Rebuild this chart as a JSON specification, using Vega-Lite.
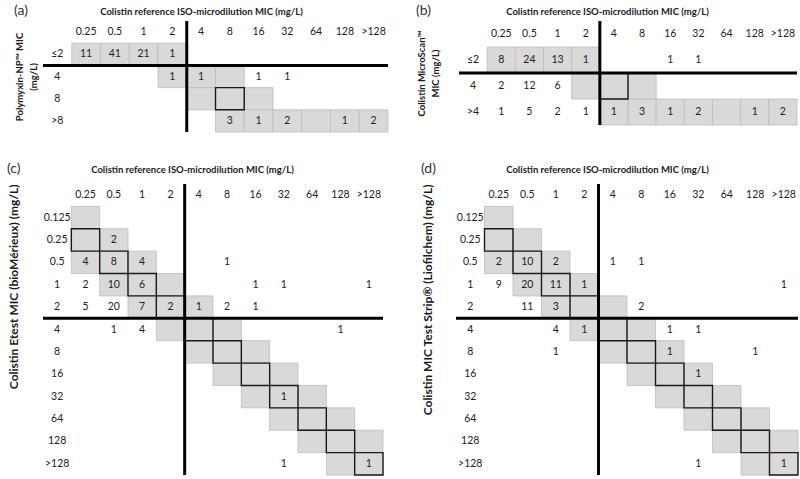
{
  "$schema": "https://vega.github.io/schema/vega-lite/v6.json",
  "background": "white",
  "padding": {"left": 6, "top": 4, "right": 0, "bottom": 0},
  "config": {
    "font": "Lato",
    "view": {"stroke": null},
    "axis": {"titleFont": "Lato", "titleFontSize": 9.5, "titleFontWeight": "bold", "titleColor": "#1a1a1a", "labels": false, "ticks": false, "domain": false, "grid": false},
    "title": {"font": "Lato", "fontSize": 14, "fontWeight": "normal", "color": "#333", "anchor": "start", "frame": "bounds", "offset": -12},
    "text": {"font": "Lato", "fontSize": 10.5, "color": "#222"}
  },
  "datasets": {
    "hdrcols": [{"c": "0.25"}, {"c": "0.5"}, {"c": "1"}, {"c": "2"}, {"c": "4"}, {"c": "8"}, {"c": "16"}, {"c": "32"}, {"c": "64"}, {"c": "128"}, {"c": ">128"}],
    "brk": [{"c": "4", "r": "4"}],
    "rowsA": [{"r": "≤2"}, {"r": "4"}, {"r": "8"}, {"r": ">8"}],
    "rowsB": [{"r": "≤2"}, {"r": "4"}, {"r": ">4"}],
    "rowsC": [{"r": "0.125"}, {"r": "0.25"}, {"r": "0.5"}, {"r": "1"}, {"r": "2"}, {"r": "4"}, {"r": "8"}, {"r": "16"}, {"r": "32"}, {"r": "64"}, {"r": "128"}, {"r": ">128"}],
    "greyA": [
      {"r": "≤2", "c": "0.25"}, {"r": "≤2", "c": "0.5"}, {"r": "≤2", "c": "1"}, {"r": "≤2", "c": "2"},
      {"r": "4", "c": "2"}, {"r": "4", "c": "4"}, {"r": "4", "c": "8"},
      {"r": "8", "c": "4"}, {"r": "8", "c": "8"}, {"r": "8", "c": "16"},
      {"r": ">8", "c": "8"}, {"r": ">8", "c": "16"}, {"r": ">8", "c": "32"}, {"r": ">8", "c": "64"}, {"r": ">8", "c": "128"}, {"r": ">8", "c": ">128"}
    ],
    "boxA": [{"r": "8", "c": "8"}],
    "countA": [
      {"r": "≤2", "c": "0.25", "n": 11}, {"r": "≤2", "c": "0.5", "n": 41}, {"r": "≤2", "c": "1", "n": 21}, {"r": "≤2", "c": "2", "n": 1},
      {"r": "4", "c": "2", "n": 1}, {"r": "4", "c": "4", "n": 1}, {"r": "4", "c": "16", "n": 1}, {"r": "4", "c": "32", "n": 1},
      {"r": ">8", "c": "8", "n": 3}, {"r": ">8", "c": "16", "n": 1}, {"r": ">8", "c": "32", "n": 2}, {"r": ">8", "c": "128", "n": 1}, {"r": ">8", "c": ">128", "n": 2}
    ],
    "greyB": [
      {"r": "≤2", "c": "0.25"}, {"r": "≤2", "c": "0.5"}, {"r": "≤2", "c": "1"}, {"r": "≤2", "c": "2"},
      {"r": "4", "c": "2"}, {"r": "4", "c": "4"}, {"r": "4", "c": "8"},
      {"r": ">4", "c": "4"}, {"r": ">4", "c": "8"}, {"r": ">4", "c": "16"}, {"r": ">4", "c": "32"}, {"r": ">4", "c": "64"}, {"r": ">4", "c": "128"}, {"r": ">4", "c": ">128"}
    ],
    "boxB": [{"r": "4", "c": "4"}],
    "countB": [
      {"r": "≤2", "c": "0.25", "n": 8}, {"r": "≤2", "c": "0.5", "n": 24}, {"r": "≤2", "c": "1", "n": 13}, {"r": "≤2", "c": "2", "n": 1}, {"r": "≤2", "c": "16", "n": 1}, {"r": "≤2", "c": "32", "n": 1},
      {"r": "4", "c": "0.25", "n": 2}, {"r": "4", "c": "0.5", "n": 12}, {"r": "4", "c": "1", "n": 6},
      {"r": ">4", "c": "0.25", "n": 1}, {"r": ">4", "c": "0.5", "n": 5}, {"r": ">4", "c": "1", "n": 2}, {"r": ">4", "c": "2", "n": 1}, {"r": ">4", "c": "4", "n": 1}, {"r": ">4", "c": "8", "n": 3}, {"r": ">4", "c": "16", "n": 1}, {"r": ">4", "c": "32", "n": 2}, {"r": ">4", "c": "128", "n": 1}, {"r": ">4", "c": ">128", "n": 2}
    ],
    "greyC": [
      {"r": "0.125", "c": "0.25"},
      {"r": "0.25", "c": "0.25"}, {"r": "0.25", "c": "0.5"},
      {"r": "0.5", "c": "0.25"}, {"r": "0.5", "c": "0.5"}, {"r": "0.5", "c": "1"},
      {"r": "1", "c": "0.5"}, {"r": "1", "c": "1"}, {"r": "1", "c": "2"},
      {"r": "2", "c": "1"}, {"r": "2", "c": "2"}, {"r": "2", "c": "4"},
      {"r": "4", "c": "2"}, {"r": "4", "c": "4"}, {"r": "4", "c": "8"},
      {"r": "8", "c": "4"}, {"r": "8", "c": "8"}, {"r": "8", "c": "16"},
      {"r": "16", "c": "8"}, {"r": "16", "c": "16"}, {"r": "16", "c": "32"},
      {"r": "32", "c": "16"}, {"r": "32", "c": "32"}, {"r": "32", "c": "64"},
      {"r": "64", "c": "32"}, {"r": "64", "c": "64"}, {"r": "64", "c": "128"},
      {"r": "128", "c": "64"}, {"r": "128", "c": "128"}, {"r": "128", "c": ">128"},
      {"r": ">128", "c": "128"}, {"r": ">128", "c": ">128"}
    ],
    "boxC": [
      {"r": "0.25", "c": "0.25"}, {"r": "0.5", "c": "0.5"}, {"r": "1", "c": "1"}, {"r": "2", "c": "2"}, {"r": "4", "c": "4"}, {"r": "8", "c": "8"},
      {"r": "16", "c": "16"}, {"r": "32", "c": "32"}, {"r": "64", "c": "64"}, {"r": "128", "c": "128"}, {"r": ">128", "c": ">128"}
    ],
    "countC": [
      {"r": "0.25", "c": "0.5", "n": 2},
      {"r": "0.5", "c": "0.25", "n": 4}, {"r": "0.5", "c": "0.5", "n": 8}, {"r": "0.5", "c": "1", "n": 4}, {"r": "0.5", "c": "8", "n": 1},
      {"r": "1", "c": "0.25", "n": 2}, {"r": "1", "c": "0.5", "n": 10}, {"r": "1", "c": "1", "n": 6}, {"r": "1", "c": "16", "n": 1}, {"r": "1", "c": "32", "n": 1}, {"r": "1", "c": ">128", "n": 1},
      {"r": "2", "c": "0.25", "n": 5}, {"r": "2", "c": "0.5", "n": 20}, {"r": "2", "c": "1", "n": 7}, {"r": "2", "c": "2", "n": 2}, {"r": "2", "c": "4", "n": 1}, {"r": "2", "c": "8", "n": 2}, {"r": "2", "c": "16", "n": 1},
      {"r": "4", "c": "0.5", "n": 1}, {"r": "4", "c": "1", "n": 4}, {"r": "4", "c": "128", "n": 1},
      {"r": "32", "c": "32", "n": 1},
      {"r": ">128", "c": "32", "n": 1}, {"r": ">128", "c": ">128", "n": 1}
    ],
    "countD": [
      {"r": "0.5", "c": "0.25", "n": 2}, {"r": "0.5", "c": "0.5", "n": 10}, {"r": "0.5", "c": "1", "n": 2}, {"r": "0.5", "c": "4", "n": 1}, {"r": "0.5", "c": "8", "n": 1},
      {"r": "1", "c": "0.25", "n": 9}, {"r": "1", "c": "0.5", "n": 20}, {"r": "1", "c": "1", "n": 11}, {"r": "1", "c": "2", "n": 1}, {"r": "1", "c": ">128", "n": 1},
      {"r": "2", "c": "0.5", "n": 11}, {"r": "2", "c": "1", "n": 3}, {"r": "2", "c": "8", "n": 2},
      {"r": "4", "c": "1", "n": 4}, {"r": "4", "c": "2", "n": 1}, {"r": "4", "c": "16", "n": 1}, {"r": "4", "c": "32", "n": 1},
      {"r": "8", "c": "1", "n": 1}, {"r": "8", "c": "16", "n": 1}, {"r": "8", "c": "128", "n": 1},
      {"r": "16", "c": "32", "n": 1},
      {"r": ">128", "c": "32", "n": 1}, {"r": ">128", "c": ">128", "n": 1}
    ]
  },
  "spacing": 28,
  "vconcat": [
    {
      "spacing": 26,
      "hconcat": [
        {
          "width": 345, "height": 111,
          "title": {"text": "(a)"},
          "layer": [
            {"data": {"name": "greyA"}, "mark": {"type": "rect", "fill": "#d9d9d9", "stroke": "#bdbdbd", "strokeWidth": 0.8},
             "encoding": {
               "x": {"field": "c", "type": "nominal", "scale": {"domain": ["lbl", "0.25", "0.5", "1", "2", "4", "8", "16", "32", "64", "128", ">128"], "paddingInner": 0, "paddingOuter": 0}, "axis": {"orient": "top", "title": "Colistin reference ISO-microdilution MIC (mg/L)", "titlePadding": 5, "titleX": 158}},
               "y": {"field": "r", "type": "nominal", "scale": {"domain": ["hdr", "≤2", "4", "8", ">8"], "paddingInner": 0, "paddingOuter": 0}, "axis": {"title": ["Polymyxin-NP™ MIC", "(mg/L)"], "titleX": -24, "titleBaseline": "middle", "titleAngle": 270, "titleLineHeight": 14}}}},
            {"data": {"name": "boxA"}, "mark": {"type": "rect", "filled": false, "color": "#1a1a1a", "strokeWidth": 1.4},
             "encoding": {
               "x": {"field": "c", "type": "nominal", "scale": {"domain": ["lbl", "0.25", "0.5", "1", "2", "4", "8", "16", "32", "64", "128", ">128"], "paddingInner": 0, "paddingOuter": 0}},
               "y": {"field": "r", "type": "nominal", "scale": {"domain": ["hdr", "≤2", "4", "8", ">8"], "paddingInner": 0, "paddingOuter": 0}}}},
            {"data": {"name": "countA"}, "mark": {"type": "text"},
             "encoding": {
               "x": {"field": "c", "type": "nominal", "scale": {"domain": ["lbl", "0.25", "0.5", "1", "2", "4", "8", "16", "32", "64", "128", ">128"], "paddingInner": 0, "paddingOuter": 0}},
               "y": {"field": "r", "type": "nominal", "scale": {"domain": ["hdr", "≤2", "4", "8", ">8"], "paddingInner": 0, "paddingOuter": 0}},
               "text": {"field": "n", "type": "quantitative"}}},
            {"data": {"name": "hdrcols"}, "mark": {"type": "text"},
             "encoding": {
               "x": {"field": "c", "type": "nominal", "scale": {"domain": ["lbl", "0.25", "0.5", "1", "2", "4", "8", "16", "32", "64", "128", ">128"], "paddingInner": 0, "paddingOuter": 0}},
               "y": {"datum": "hdr", "type": "nominal", "scale": {"domain": ["hdr", "≤2", "4", "8", ">8"], "paddingInner": 0, "paddingOuter": 0}},
               "text": {"field": "c", "type": "nominal"}}},
            {"data": {"name": "rowsA"}, "mark": {"type": "text"},
             "encoding": {
               "x": {"datum": "lbl", "type": "nominal", "scale": {"domain": ["lbl", "0.25", "0.5", "1", "2", "4", "8", "16", "32", "64", "128", ">128"], "paddingInner": 0, "paddingOuter": 0}},
               "y": {"field": "r", "type": "nominal", "scale": {"domain": ["hdr", "≤2", "4", "8", ">8"], "paddingInner": 0, "paddingOuter": 0}},
               "text": {"field": "r", "type": "nominal"}}},
            {"data": {"name": "brk"}, "mark": {"type": "rule", "strokeWidth": 3, "color": "#000"},
             "encoding": {"x": {"field": "c", "type": "nominal", "bandPosition": 0, "scale": {"domain": ["lbl", "0.25", "0.5", "1", "2", "4", "8", "16", "32", "64", "128", ">128"], "paddingInner": 0, "paddingOuter": 0}}}},
            {"data": {"name": "brk"}, "mark": {"type": "rule", "strokeWidth": 3, "color": "#000"},
             "encoding": {"y": {"field": "r", "type": "nominal", "bandPosition": 0, "scale": {"domain": ["hdr", "≤2", "4", "8", ">8"], "paddingInner": 0, "paddingOuter": 0}}}}
          ]
        },
        {
          "width": 338, "height": 104,
          "title": {"text": "(b)"},
          "layer": [
            {"data": {"name": "greyB"}, "mark": {"type": "rect", "fill": "#d9d9d9", "stroke": "#bdbdbd", "strokeWidth": 0.8},
             "encoding": {
               "x": {"field": "c", "type": "nominal", "scale": {"domain": ["lbl", "0.25", "0.5", "1", "2", "4", "8", "16", "32", "64", "128", ">128"], "paddingInner": 0, "paddingOuter": 0}, "axis": {"orient": "top", "title": "Colistin reference ISO-microdilution MIC (mg/L)", "titlePadding": 5, "titleX": 148}},
               "y": {"field": "r", "type": "nominal", "scale": {"domain": ["hdr", "≤2", "4", ">4"], "paddingInner": 0, "paddingOuter": 0}, "axis": {"title": ["Colistin MicroScan™", "MIC (mg/L)"], "titleX": -38, "titleBaseline": "middle", "titleAngle": 270, "titleLineHeight": 14}}}},
            {"data": {"name": "boxB"}, "mark": {"type": "rect", "filled": false, "color": "#1a1a1a", "strokeWidth": 1.4},
             "encoding": {
               "x": {"field": "c", "type": "nominal", "scale": {"domain": ["lbl", "0.25", "0.5", "1", "2", "4", "8", "16", "32", "64", "128", ">128"], "paddingInner": 0, "paddingOuter": 0}},
               "y": {"field": "r", "type": "nominal", "scale": {"domain": ["hdr", "≤2", "4", ">4"], "paddingInner": 0, "paddingOuter": 0}}}},
            {"data": {"name": "countB"}, "mark": {"type": "text"},
             "encoding": {
               "x": {"field": "c", "type": "nominal", "scale": {"domain": ["lbl", "0.25", "0.5", "1", "2", "4", "8", "16", "32", "64", "128", ">128"], "paddingInner": 0, "paddingOuter": 0}},
               "y": {"field": "r", "type": "nominal", "scale": {"domain": ["hdr", "≤2", "4", ">4"], "paddingInner": 0, "paddingOuter": 0}},
               "text": {"field": "n", "type": "quantitative"}}},
            {"data": {"name": "hdrcols"}, "mark": {"type": "text"},
             "encoding": {
               "x": {"field": "c", "type": "nominal", "scale": {"domain": ["lbl", "0.25", "0.5", "1", "2", "4", "8", "16", "32", "64", "128", ">128"], "paddingInner": 0, "paddingOuter": 0}},
               "y": {"datum": "hdr", "type": "nominal", "scale": {"domain": ["hdr", "≤2", "4", ">4"], "paddingInner": 0, "paddingOuter": 0}},
               "text": {"field": "c", "type": "nominal"}}},
            {"data": {"name": "rowsB"}, "mark": {"type": "text"},
             "encoding": {
               "x": {"datum": "lbl", "type": "nominal", "scale": {"domain": ["lbl", "0.25", "0.5", "1", "2", "4", "8", "16", "32", "64", "128", ">128"], "paddingInner": 0, "paddingOuter": 0}},
               "y": {"field": "r", "type": "nominal", "scale": {"domain": ["hdr", "≤2", "4", ">4"], "paddingInner": 0, "paddingOuter": 0}},
               "text": {"field": "r", "type": "nominal"}}},
            {"data": {"name": "brk"}, "mark": {"type": "rule", "strokeWidth": 3, "color": "#000"},
             "encoding": {"x": {"field": "c", "type": "nominal", "bandPosition": 0, "scale": {"domain": ["lbl", "0.25", "0.5", "1", "2", "4", "8", "16", "32", "64", "128", ">128"], "paddingInner": 0, "paddingOuter": 0}}}},
            {"data": {"name": "brk"}, "mark": {"type": "rule", "strokeWidth": 3, "color": "#000"},
             "encoding": {"y": {"field": "r", "type": "nominal", "bandPosition": 0, "scale": {"domain": ["hdr", "≤2", "4", ">4"], "paddingInner": 0, "paddingOuter": 0}}}}
          ]
        }
      ]
    },
    {
      "spacing": 35,
      "hconcat": [
        {
          "width": 340, "height": 291,
          "title": {"text": "(c)"},
          "layer": [
            {"data": {"name": "greyC"}, "mark": {"type": "rect", "fill": "#d9d9d9", "stroke": "#bdbdbd", "strokeWidth": 0.8},
             "encoding": {
               "x": {"field": "c", "type": "nominal", "scale": {"domain": ["lbl", "0.25", "0.5", "1", "2", "4", "8", "16", "32", "64", "128", ">128"], "paddingInner": 0, "paddingOuter": 0}, "axis": {"orient": "top", "title": "Colistin reference ISO-microdilution MIC (mg/L)", "titlePadding": 10, "titleX": 149}},
               "y": {"field": "r", "type": "nominal", "scale": {"domain": ["hdr", "0.125", "0.25", "0.5", "1", "2", "4", "8", "16", "32", "64", "128", ">128"], "paddingInner": 0, "paddingOuter": 0}, "axis": {"title": "Colistin Etest MIC (bioMérieux) (mg/L)", "titleFontSize": 12, "titlePadding": 23, "titleAnchor": "start", "titleAlign": "right"}}}},
            {"data": {"name": "boxC"}, "mark": {"type": "rect", "filled": false, "color": "#1a1a1a", "strokeWidth": 1.4},
             "encoding": {
               "x": {"field": "c", "type": "nominal", "scale": {"domain": ["lbl", "0.25", "0.5", "1", "2", "4", "8", "16", "32", "64", "128", ">128"], "paddingInner": 0, "paddingOuter": 0}},
               "y": {"field": "r", "type": "nominal", "scale": {"domain": ["hdr", "0.125", "0.25", "0.5", "1", "2", "4", "8", "16", "32", "64", "128", ">128"], "paddingInner": 0, "paddingOuter": 0}}}},
            {"data": {"name": "countC"}, "mark": {"type": "text"},
             "encoding": {
               "x": {"field": "c", "type": "nominal", "scale": {"domain": ["lbl", "0.25", "0.5", "1", "2", "4", "8", "16", "32", "64", "128", ">128"], "paddingInner": 0, "paddingOuter": 0}},
               "y": {"field": "r", "type": "nominal", "scale": {"domain": ["hdr", "0.125", "0.25", "0.5", "1", "2", "4", "8", "16", "32", "64", "128", ">128"], "paddingInner": 0, "paddingOuter": 0}},
               "text": {"field": "n", "type": "quantitative"}}},
            {"data": {"name": "hdrcols"}, "mark": {"type": "text"},
             "encoding": {
               "x": {"field": "c", "type": "nominal", "scale": {"domain": ["lbl", "0.25", "0.5", "1", "2", "4", "8", "16", "32", "64", "128", ">128"], "paddingInner": 0, "paddingOuter": 0}},
               "y": {"datum": "hdr", "type": "nominal", "scale": {"domain": ["hdr", "0.125", "0.25", "0.5", "1", "2", "4", "8", "16", "32", "64", "128", ">128"], "paddingInner": 0, "paddingOuter": 0}},
               "text": {"field": "c", "type": "nominal"}}},
            {"data": {"name": "rowsC"}, "mark": {"type": "text"},
             "encoding": {
               "x": {"datum": "lbl", "type": "nominal", "scale": {"domain": ["lbl", "0.25", "0.5", "1", "2", "4", "8", "16", "32", "64", "128", ">128"], "paddingInner": 0, "paddingOuter": 0}},
               "y": {"field": "r", "type": "nominal", "scale": {"domain": ["hdr", "0.125", "0.25", "0.5", "1", "2", "4", "8", "16", "32", "64", "128", ">128"], "paddingInner": 0, "paddingOuter": 0}},
               "text": {"field": "r", "type": "nominal"}}},
            {"data": {"name": "brk"}, "mark": {"type": "rule", "strokeWidth": 3, "color": "#000"},
             "encoding": {"x": {"field": "c", "type": "nominal", "bandPosition": 0, "scale": {"domain": ["lbl", "0.25", "0.5", "1", "2", "4", "8", "16", "32", "64", "128", ">128"], "paddingInner": 0, "paddingOuter": 0}}}},
            {"data": {"name": "brk"}, "mark": {"type": "rule", "strokeWidth": 3, "color": "#000"},
             "encoding": {"y": {"field": "r", "type": "nominal", "bandPosition": 0, "scale": {"domain": ["hdr", "0.125", "0.25", "0.5", "1", "2", "4", "8", "16", "32", "64", "128", ">128"], "paddingInner": 0, "paddingOuter": 0}}}}
          ]
        },
        {
          "width": 342, "height": 291,
          "title": {"text": "(d)"},
          "layer": [
            {"data": {"name": "greyC"}, "mark": {"type": "rect", "fill": "#d9d9d9", "stroke": "#bdbdbd", "strokeWidth": 0.8},
             "encoding": {
               "x": {"field": "c", "type": "nominal", "scale": {"domain": ["lbl", "0.25", "0.5", "1", "2", "4", "8", "16", "32", "64", "128", ">128"], "paddingInner": 0, "paddingOuter": 0}, "axis": {"orient": "top", "title": "Colistin reference ISO-microdilution MIC (mg/L)", "titlePadding": 10, "titleX": 151}},
               "y": {"field": "r", "type": "nominal", "scale": {"domain": ["hdr", "0.125", "0.25", "0.5", "1", "2", "4", "8", "16", "32", "64", "128", ">128"], "paddingInner": 0, "paddingOuter": 0}, "axis": {"title": "Colistin MIC Test Strip® (Liofilchem) (mg/L)", "titleFontSize": 12, "titlePadding": 22, "titleAnchor": "start", "titleAlign": "right"}}}},
            {"data": {"name": "boxC"}, "mark": {"type": "rect", "filled": false, "color": "#1a1a1a", "strokeWidth": 1.4},
             "encoding": {
               "x": {"field": "c", "type": "nominal", "scale": {"domain": ["lbl", "0.25", "0.5", "1", "2", "4", "8", "16", "32", "64", "128", ">128"], "paddingInner": 0, "paddingOuter": 0}},
               "y": {"field": "r", "type": "nominal", "scale": {"domain": ["hdr", "0.125", "0.25", "0.5", "1", "2", "4", "8", "16", "32", "64", "128", ">128"], "paddingInner": 0, "paddingOuter": 0}}}},
            {"data": {"name": "countD"}, "mark": {"type": "text"},
             "encoding": {
               "x": {"field": "c", "type": "nominal", "scale": {"domain": ["lbl", "0.25", "0.5", "1", "2", "4", "8", "16", "32", "64", "128", ">128"], "paddingInner": 0, "paddingOuter": 0}},
               "y": {"field": "r", "type": "nominal", "scale": {"domain": ["hdr", "0.125", "0.25", "0.5", "1", "2", "4", "8", "16", "32", "64", "128", ">128"], "paddingInner": 0, "paddingOuter": 0}},
               "text": {"field": "n", "type": "quantitative"}}},
            {"data": {"name": "hdrcols"}, "mark": {"type": "text"},
             "encoding": {
               "x": {"field": "c", "type": "nominal", "scale": {"domain": ["lbl", "0.25", "0.5", "1", "2", "4", "8", "16", "32", "64", "128", ">128"], "paddingInner": 0, "paddingOuter": 0}},
               "y": {"datum": "hdr", "type": "nominal", "scale": {"domain": ["hdr", "0.125", "0.25", "0.5", "1", "2", "4", "8", "16", "32", "64", "128", ">128"], "paddingInner": 0, "paddingOuter": 0}},
               "text": {"field": "c", "type": "nominal"}}},
            {"data": {"name": "rowsC"}, "mark": {"type": "text"},
             "encoding": {
               "x": {"datum": "lbl", "type": "nominal", "scale": {"domain": ["lbl", "0.25", "0.5", "1", "2", "4", "8", "16", "32", "64", "128", ">128"], "paddingInner": 0, "paddingOuter": 0}},
               "y": {"field": "r", "type": "nominal", "scale": {"domain": ["hdr", "0.125", "0.25", "0.5", "1", "2", "4", "8", "16", "32", "64", "128", ">128"], "paddingInner": 0, "paddingOuter": 0}},
               "text": {"field": "r", "type": "nominal"}}},
            {"data": {"name": "brk"}, "mark": {"type": "rule", "strokeWidth": 3, "color": "#000"},
             "encoding": {"x": {"field": "c", "type": "nominal", "bandPosition": 0, "scale": {"domain": ["lbl", "0.25", "0.5", "1", "2", "4", "8", "16", "32", "64", "128", ">128"], "paddingInner": 0, "paddingOuter": 0}}}},
            {"data": {"name": "brk"}, "mark": {"type": "rule", "strokeWidth": 3, "color": "#000"},
             "encoding": {"y": {"field": "r", "type": "nominal", "bandPosition": 0, "scale": {"domain": ["hdr", "0.125", "0.25", "0.5", "1", "2", "4", "8", "16", "32", "64", "128", ">128"], "paddingInner": 0, "paddingOuter": 0}}}}
          ]
        }
      ]
    }
  ]
}
